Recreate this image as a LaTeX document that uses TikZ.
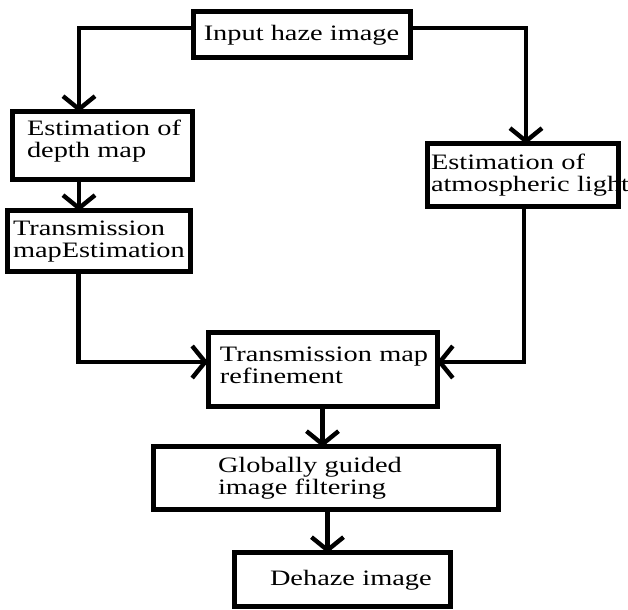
\documentclass[tikz,border=0pt]{standalone}
\usepackage{fontspec}
\newfontfamily\flowfont[FakeStretch=1.29]{Liberation Serif}
\usetikzlibrary{arrows.meta, positioning}
\hyphenpenalty=10000

\tikzset{
  block/.style={draw, rectangle, line width=2.5pt, outer sep=0pt, align=left,
    font=\flowfont\fontsize{11}{11}\selectfont},
  flow/.style={->, line width=2.2pt},
}

\begin{document}
\begin{tikzpicture}[x=0.5pt, y=-0.5pt, >={Straight Barb[length=6.5pt,width=16pt]}]
      \useasboundingbox (0,0) rectangle (628,610);
	     % nodes %
      \node[block, align=center, minimum width=108.5pt, minimum height=23pt] (input) at (301.5,35) {Input haze image};
      \node[block, minimum width=90pt, minimum height=34pt, inner xsep=7.5pt, text width=75pt, text depth=18pt] (depth) at (102,146) {Estimation~of\\depth~map};
      \node[block, minimum width=91.5pt, minimum height=30.5pt, inner xsep=3pt, text width=85.5pt] (trans) at (98.5,241.5) {Transmission\\mapEstimation};
      \node[block, minimum width=95.5pt, minimum height=31.5pt, inner xsep=2pt, text width=91.5pt] (atmos) at (522.5,175.5) {Estimation~of\\atmospheric~light};
      \node[block, minimum width=114.5pt, minimum height=37pt, inner xsep=6pt, text width=102.5pt, text depth=16pt] (refine) at (322.5,370) {Transmission~map\\refinement};
      \node[block, minimum width=172.5pt, minimum height=31.5pt, inner xsep=32.5pt, text width=107.5pt] (global) at (325.5,478.5) {Globally~guided\\image~filtering};
      \node[block, minimum width=108pt, minimum height=27pt, inner xsep=18pt, text width=72pt] (dehaze) at (342,580) {\mbox{Dehaze image}};

      % borders over the long lines %
      \draw[line width=2.5pt] (trans.south west) rectangle (trans.north east);
      \draw[line width=2.5pt] (atmos.south west) rectangle (atmos.north east);

      % edges %
      \draw[flow] ([yshift=3.5pt]input.west) -| ([xshift=-11.5pt]depth.north);
      \draw[flow] ([yshift=3.5pt]input.east) -| ([xshift=1.75pt]atmos.north);
      \draw[flow] ([xshift=-11.5pt]depth.south) -- ([xshift=-11.5pt]depth.south |- trans.north);
      \draw[flow] ([xshift=-10pt]trans.south) |- ([yshift=4pt]refine.west);
      \draw[flow] ([xshift=0.75pt]atmos.south) |- ([yshift=4pt]refine.east);
      \draw[flow] (refine.south) -- (refine.south |- global.north);
      \draw[flow] ([xshift=1pt]global.south) -- ([xshift=1pt]global.south |- dehaze.north);
\end{tikzpicture}
\end{document}
